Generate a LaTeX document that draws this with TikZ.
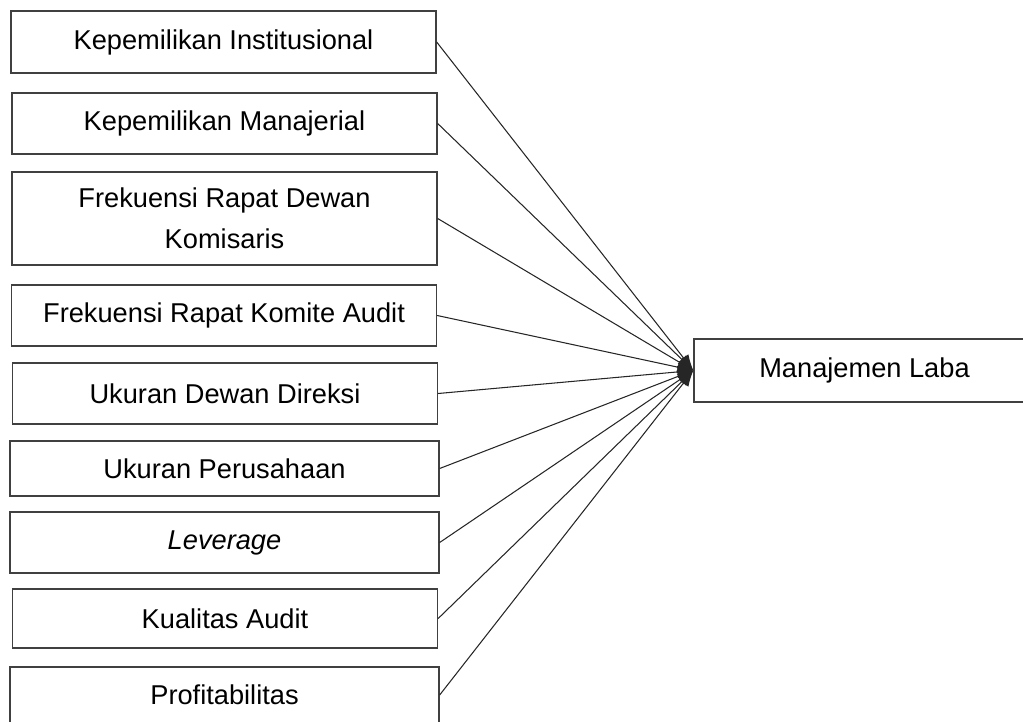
\documentclass[tikz,border=0pt]{standalone}
\usepackage{fontspec}
\setmainfont{Liberation Sans}
\usetikzlibrary{positioning,arrows.meta}
\tikzset{
  linkarrow/.style={-{Latex[length=9pt,width=7pt]}, line width=0.6pt, black!85},
  varbox/.style={draw=black!75, line width=0.8pt, fill=white, minimum width=8.5cm, minimum height=1.22cm, align=center, inner sep=2pt},
  depbox/.style={draw=black!75, line width=0.8pt, fill=white, minimum width=6.82cm, minimum height=1.26cm, align=center, inner sep=2pt}
}

\begin{document}
\begin{tikzpicture}[x=0.02cm, y=-0.02cm, every node/.style={font=\fontsize{15.5}{23.5}\selectfont}]
      \useasboundingbox (0,0) rectangle (1023,722);
      \node[varbox, minimum height=1.24cm] (ki) at (223.5,42) {Kepemilikan Institusional};
      \node[varbox] (km) at (224.5,123.5) {Kepemilikan Manajerial};
      \node[varbox, minimum height=1.86cm] (rdk) at (224.5,218.5) {Frekuensi Rapat Dewan\\Komisaris};
      \node[varbox] (rka) at (224,315.5) {Frekuensi Rapat Komite Audit};
      \node[varbox] (udd) at (225,393.5) {Ukuran Dewan Direksi};
      \node[varbox, minimum width=8.58cm, minimum height=1.1cm] (up) at (224.5,468.5) {Ukuran Perusahaan};
      \node[varbox, minimum width=8.58cm] (lev) at (224.5,542.5) {\itshape Leverage};
      \node[varbox, minimum height=1.18cm] (ka) at (225,618.5) {Kualitas Audit};
      \node[varbox, minimum width=8.58cm, minimum height=1.12cm] (prof) at (224.5,695) {Profitabilitas};
      \node[depbox] (ml) at (864.5,370.5) {Manajemen Laba};
      \draw[linkarrow] (ki.east) -- (ml.west);
      \draw[linkarrow] (km.east) -- (ml.west);
      \draw[linkarrow] (rdk.east) -- (ml.west);
      \draw[linkarrow] (rka.east) -- (ml.west);
      \draw[linkarrow] (udd.east) -- (ml.west);
      \draw[linkarrow] (up.east) -- (ml.west);
      \draw[linkarrow] (lev.east) -- (ml.west);
      \draw[linkarrow] (ka.east) -- (ml.west);
      \draw[linkarrow] (prof.east) -- (ml.west);
    \end{tikzpicture}
\end{document}
